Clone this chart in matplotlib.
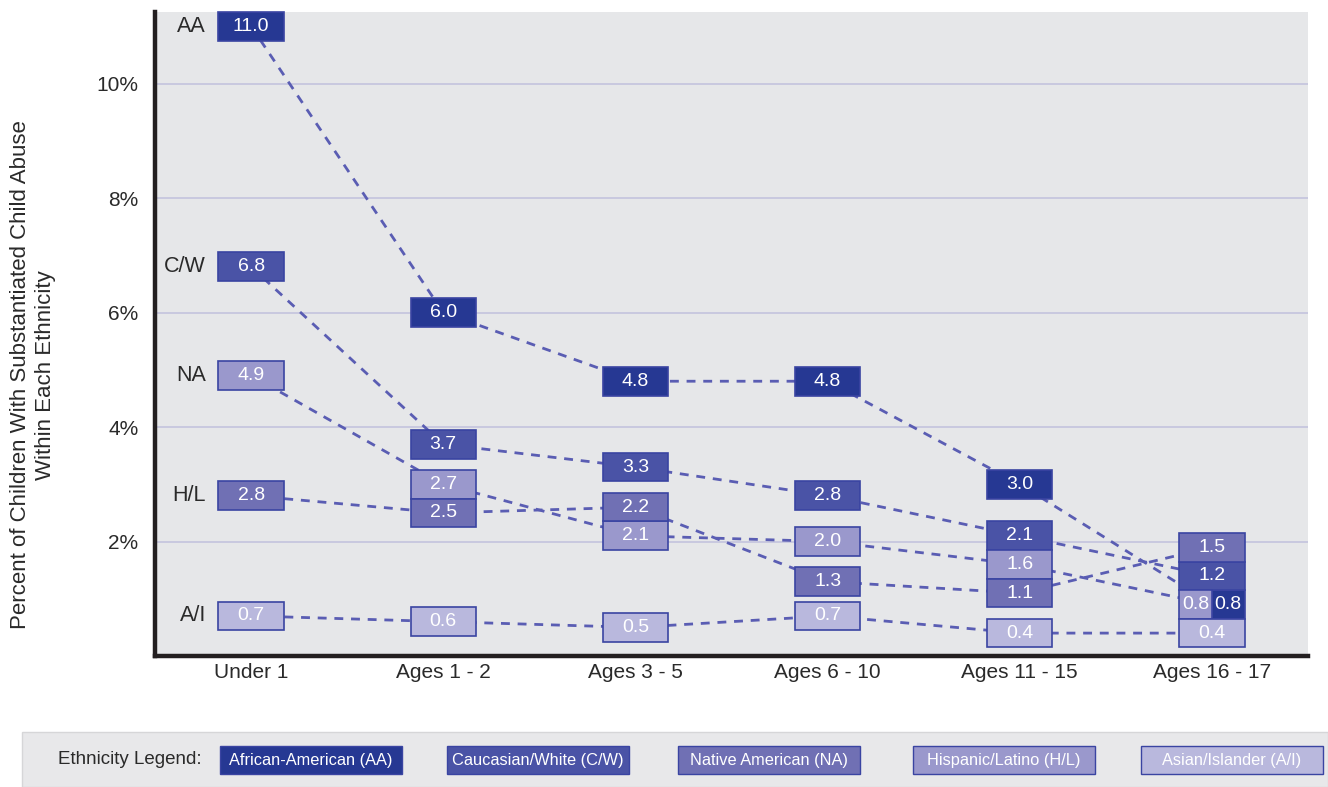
import matplotlib
matplotlib.use("Agg")
import matplotlib.pyplot as plt
from matplotlib.patches import Rectangle

plt.rcParams["font.family"] = ["Liberation Sans", "DejaVu Sans"]

# ---- data -------------------------------------------------------------
categories = ["Under 1", "Ages 1 - 2", "Ages 3 - 5", "Ages 6 - 10",
              "Ages 11 - 15", "Ages 16 - 17"]
series_codes = ["AA", "C/W", "NA", "H/L", "A/I"]
aa_values = [11.0, 6.0, 4.8, 4.8, 3.0, 0.8]
cw_values = [6.8, 3.7, 3.3, 2.8, 2.1, 1.2]
na_values = [4.9, 2.7, 2.1, 2.0, 1.6, 0.8]
hl_values = [2.8, 2.5, 2.2, 1.3, 1.1, 1.5]
ai_values = [0.7, 0.6, 0.5, 0.7, 0.4, 0.4]
legend_names = ["African-American (AA)", "Caucasian/White (C/W)",
                "Native American (NA)", "Hispanic/Latino (H/L)",
                "Asian/Islander (A/I)"]
y_ticks = [2, 4, 6, 8, 10]

# ---- styling ----------------------------------------------------------
box_colors = ["#263893", "#4a53a6", "#9a98cc", "#7070b4", "#b9b8dd"]
legend_colors = ["#263893", "#4a53a6", "#7070b4", "#9a98cc", "#b9b8dd"]
edge_color = "#3a44a2"
line_color = "#5a5db3"
bg_color = "#e6e7e9"
grid_color = "#c6c6de"
axis_color = "#231f20"
text_color = "#2a2a2a"

all_values = [aa_values, cw_values, na_values, hl_values, ai_values]
n_cat = len(categories)
box_w = 0.34
box_h = 0.5

fig = plt.figure(figsize=(13.28, 7.87), dpi=100)
W, H = 1328, 787
ax = fig.add_axes([155 / W, 131 / H, (1308 - 155) / W, (656 - 12) / H])
ax.set_facecolor(bg_color)
ax.set_xlim(-0.5, n_cat - 0.5)
ax.set_ylim(0, 11.25)

for t in y_ticks:
    ax.axhline(t, color=grid_color, lw=1.3, zorder=1)

ax.set_yticks(y_ticks)
ax.set_yticklabels([f"{t}%" for t in y_ticks], fontsize=15, color=text_color)
ax.set_xticks(range(n_cat))
ax.set_xticklabels(categories, fontsize=15, color=text_color)
ax.tick_params(axis="both", length=0)
ax.tick_params(axis="x", pad=5)
ax.tick_params(axis="y", pad=12)
for side in ("top", "right"):
    ax.spines[side].set_visible(False)
for side in ("left", "bottom"):
    ax.spines[side].set_color(axis_color)
    ax.spines[side].set_linewidth(3.2)
    ax.spines[side].set_zorder(6)

# ---- box placement: stack boxes that would collide at one age group ----
# positions[s][c] = (centre_y, x_offset, width)
positions = [[None] * n_cat for _ in all_values]
for c in range(n_cat):
    rows = {}
    for s, vals in enumerate(all_values):
        rows.setdefault(vals[c], []).append(s)
    prev = None
    for v in sorted(rows):
        y = v if prev is None else max(v, prev + box_h)
        prev = y
        members = sorted(rows[v], reverse=True)
        k = len(members)
        for j, s in enumerate(members):
            w = box_w / k
            dx = -box_w / 2 + w * (j + 0.5)
            positions[s][c] = (y, dx, w)

# dashed connecting lines
for s in range(len(all_values)):
    xs = [c for c in range(n_cat)]
    ys = [positions[s][c][0] for c in range(n_cat)]
    ax.plot(xs, ys, color=line_color, lw=2.0, ls=(0, (3.2, 2.8)), zorder=2)

# value boxes
for s, vals in enumerate(all_values):
    for c in range(n_cat):
        y, dx, w = positions[s][c]
        xc = c + dx
        ax.add_patch(Rectangle((xc - w / 2, y - box_h / 2), w, box_h,
                               facecolor=box_colors[s], edgecolor=edge_color,
                               lw=1.2, zorder=3 + s * 0.01, clip_on=False))
        ax.text(xc, y, f"{vals[c]:.1f}", ha="center", va="center",
                color="white", fontsize=14, zorder=4)

# series codes left of the first boxes
for s, code in enumerate(series_codes):
    y, dx, w = positions[s][0]
    ax.annotate(code, (0 - box_w / 2, y), xytext=(-9, 0),
                textcoords="offset points", ha="right", va="center",
                fontsize=15.5, color=text_color)

# y-axis title
fig.text(33 / W, 1 - 375 / H,
         "Percent of Children With Substantiated Child Abuse\nWithin Each Ethnicity",
         rotation=90, ha="center", va="center", fontsize=16,
         color=text_color, linespacing=1.3)

# ---- legend band ------------------------------------------------------
band_top = 732
fig.patches.append(Rectangle((22 / W, 0), 1 - 22 / W, 1 - band_top / H,
                             transform=fig.transFigure, facecolor="#e8e8ea",
                             edgecolor="#d6d6d8", lw=1.0, zorder=0))
fig.text(130 / W, 1 - 760 / H, "Ethnicity Legend:", ha="center", va="center",
         fontsize=13.5, color=text_color)
legend_centres = [311, 538, 769, 1004, 1232]
lw_px, lh_px = 182, 28
for name, col, cx in zip(legend_names, legend_colors, legend_centres):
    fig.patches.append(Rectangle(((cx - lw_px / 2) / W, 1 - (760 + lh_px / 2) / H),
                                 lw_px / W, lh_px / H, transform=fig.transFigure,
                                 facecolor=col, edgecolor=edge_color, lw=1.0))
    fig.text(cx / W, 1 - 760 / H, name, ha="center", va="center",
             fontsize=11.8, color="white")

fig.savefig("out.png", dpi=100)
